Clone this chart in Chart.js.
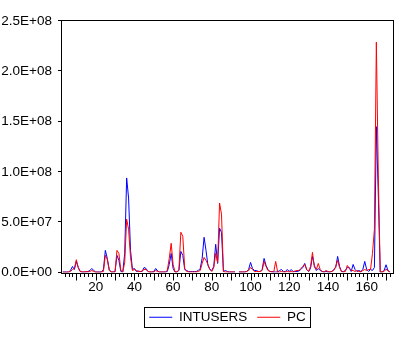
<!DOCTYPE html>
<html>
<head>
<meta charset="utf-8">
<script src="https://cdn.jsdelivr.net/npm/chart.js@4.4.0/dist/chart.umd.min.js"></script>
<style>
  html, body { margin: 0; padding: 0; background: #fff; }
  #wrap { width: 419px; height: 340px; }
</style>
</head>
<body>
<div id="wrap"><canvas id="myChart" width="419" height="340"></canvas></div>
<script>
// observation numbers start here (undated workfile)
var firstObs = 3;

// values in millions, one per observation, null = missing
var intusers = [
  0.5, 0.5, 0.5, 0.5, 2, 6, 3, 11, 5, 1,            // 3-12
  0.5, 0.5, 0.5, 1, 2, 4, 2, 0.5, 0.5, 0.5,          // 13-22
  0.5, 3, 22, 14, 3, 0.5, 0.5, 1, 17, 12,            // 23-32
  1, 0.5, 19, 94, 74, 22, 3, 4, 1, 1.5,              // 33-42
  1, 1, 5, 4, 1, 0.5, 0.5, 1, 4, 1.5,                // 43-52
  0.5, 0.5, 0.5, 0.5, 1, 8, 19, 4, 0.5, 0.5,         // 53-62
  2, 21, 17, 3, 2, 1, 1, 1, 1, 1,                    // 63-72
  2, 4, 14, 35, 22, 7, 3, 2, 6, 28,                  // 73-82
  9, 44, 40, 1, 2, 1, 0.5, 0.5, 0.5, 0.5,            // 83-92
  null, 0.5, 0.5, 0.5, 0.5, 1, 3, 10, 4, 2,          // 93-102
  2, 1, 1, 3, 14, 7, 3, 1, 1, 0.5,                   // 103-112
  0.5, 0.5, 2, 3, 1, 1, 3, 1, 3, 1,                  // 113-122
  1, 1, 1.5, 3, 5, 9, 3, 1, 4, 16,                   // 123-132
  7, 2, 4, 2, 1, 0.5, 1, 0.5, 0.5, 1,                // 133-142
  3, 5, 16, 6, 1, 1, 2, 5, 5, 1,                     // 143-152
  8, 3, 1, 2, 1, 3, 11, 3, 1, 3,                     // 153-162
  2, 5, 145, 78, 0.5, 0.5, 2, 7.7, 2, 0.5            // 163-172
];
var pc = [
  0.3, 0.3, 0.3, 0.5, 1, 3, 4, 12.7, 5, 1,
  0.5, 0.5, 1, 0.5, 1, 2, 1, 0.3, 0.3, 0.3,
  0.5, 1, 17, 13, 2, 0.5, 0.5, 0.5, 22, 19,
  2, 0.5, 10, 53, 43, 15, 2, 3, 2, 1,
  1, 1.5, 3, 3, 1, 0.5, 0.5, 0.5, 2, 1,
  0.5, 0.5, 0.5, 0.5, 2, 14, 29, 8, 0.5, 0.5,
  3, 40, 36, 4, 1, 0.5, 0.5, 0.5, 0.5, 0.5,
  1, 2, 9, 15, 12, 8, 3, 1, 5, 19,
  10, 69, 58, 1, 0.5, 0.5, 0.5, 0.5, 0.5, 0.5,
  null, 0.5, 0.5, 0.5, 0.5, 1, 2, 5, 3, 1,
  1, 1, 1, 2, 11, 6, 2, 1, 0.5, 0.5,
  11, 0.5, 0.5, 1, 0.5, 0.5, 1, 0.5, 1, 0.5,
  1.5, 2, 2, 4, 6, 8, 3, 1, 6, 20,
  5, 3, 9, 3, 1, 0.5, 2, 1, 0.5, 1,
  2, 6, 12, 5, 1, 0.5, 1, 7, 4, 2,
  2, 1, 2, 1, 0.5, 2, 3, 2, 3, 3,
  19, 43, 229, 97, 0.5, 0.5, 1, 3.4, 1.5, 0.5
];

var unit = 1e6;
var yTicks = [0, 5e7, 1e8, 1.5e8, 2e8, 2.5e8];
var xLabels = [20, 40, 60, 80, 100, 120, 140, 160];
var xRange = [2.6, 173.6];

function toPoints(arr) {
  return arr.map(function (v, i) {
    return {x: firstObs + i, y: v === null ? null : v * unit};
  });
}

function sci(v) {
  // 2.5E+08 style
  var s = Number(v).toExponential(1).toUpperCase();
  var m = s.match(/^(-?[\d.]+)E([+-])(\d+)$/);
  return m[1] + 'E' + m[2] + m[3].padStart(2, '0');
}

var font = {family: "'Liberation Sans', Arial, sans-serif", size: 13.5};

var frameAndTicks = {
  id: 'frameAndTicks',
  beforeDatasetsDraw: function (chart) {
    var ctx = chart.ctx;
    var a = chart.chartArea;
    var x = chart.scales.x, y = chart.scales.y;
    var L = Math.round(a.left) - 0.5, R = Math.round(a.right) + 0.5;
    var T = Math.round(a.top) - 0.5, B = Math.round(a.bottom) + 0.5;
    ctx.save();
    ctx.strokeStyle = '#000';
    ctx.lineWidth = 1;
    ctx.strokeRect(L, T, R - L, B - T);
    ctx.beginPath();
    for (var v = 4; v <= 172; v += 2) {
      var px = Math.round(x.getPixelForValue(v)) + 0.5;
      ctx.moveTo(px, B);
      ctx.lineTo(px, B + (v % 10 === 0 ? 7 : 3.5));
    }
    yTicks.forEach(function (t) {
      var py = Math.round(y.getPixelForValue(t)) - 0.5;
      ctx.moveTo(L - 3.5, py);
      ctx.lineTo(L, py);
    });
    ctx.stroke();
    ctx.restore();
  },
  afterDraw: function (chart) {
    var boxes = chart.legend && chart.legend.legendHitBoxes;
    if (!boxes || !boxes.length) return;
    var l = Infinity, r = -Infinity, t = Infinity, b = -Infinity;
    boxes.forEach(function (h) {
      l = Math.min(l, h.left); r = Math.max(r, h.left + h.width);
      t = Math.min(t, h.top); b = Math.max(b, h.top + h.height);
    });
    var ctx = chart.ctx;
    ctx.save();
    ctx.strokeStyle = '#000';
    ctx.lineWidth = 1;
    var cy = (t + b) / 2;
    ctx.strokeRect(Math.round(l - 5) + 0.5, Math.round(cy - 10) + 0.5, Math.round(r - l + 9), 20);
    ctx.restore();
  }
};

new Chart(document.getElementById('myChart'), {
  type: 'line',
  data: {
    datasets: [
      {
        label: 'INTUSERS',
        data: toPoints(intusers),
        borderColor: '#0000ff',
        backgroundColor: '#0000ff',
        borderWidth: 1,
        pointRadius: 0,
        tension: 0,
        spanGaps: false,
        order: 1
      },
      {
        label: 'PC',
        data: toPoints(pc),
        borderColor: '#ff0000',
        backgroundColor: '#ff0000',
        borderWidth: 1,
        pointRadius: 0,
        tension: 0,
        spanGaps: false,
        order: 0
      }
    ]
  },
  options: {
    responsive: false,
    animation: false,
    devicePixelRatio: 1,
    layout: {padding: {left: 0, right: 26, top: 21, bottom: 6}},
    scales: {
      x: {
        type: 'linear',
        min: xRange[0],
        max: xRange[1],
        afterBuildTicks: function (s) { s.ticks = xLabels.map(function (v) { return {value: v}; }); },
        afterFit: function (s) { s.height = 28; },
        grid: {display: false, drawTicks: false},
        border: {display: false},
        ticks: {
          autoSkip: false,
          maxRotation: 0,
          padding: 7,
          color: '#000',
          font: font,
          callback: function (v) { return String(v); }
        }
      },
      y: {
        min: 0,
        max: yTicks[yTicks.length - 1],
        afterBuildTicks: function (s) { s.ticks = yTicks.map(function (v) { return {value: v}; }); },
        afterFit: function (s) { s.width = 62; },
        grid: {display: false, drawTicks: false},
        border: {display: false},
        ticks: {
          padding: 10,
          color: '#000',
          font: font,
          callback: function (v) { return sci(v); }
        }
      }
    },
    plugins: {
      tooltip: {enabled: false},
      legend: {
        position: 'bottom',
        fullSize: false,
        labels: {
          color: '#000',
          font: font,
          boxWidth: 23,
          boxHeight: 1,
          padding: 10,
          sort: function (a, b) { return a.datasetIndex - b.datasetIndex; },
          generateLabels: function (chart) {
            return Chart.defaults.plugins.legend.labels.generateLabels(chart)
              .map(function (it) { it.lineWidth = 0; return it; });
          }
        }
      }
    }
  },
  plugins: [frameAndTicks]
});
</script>
</body>
</html>
